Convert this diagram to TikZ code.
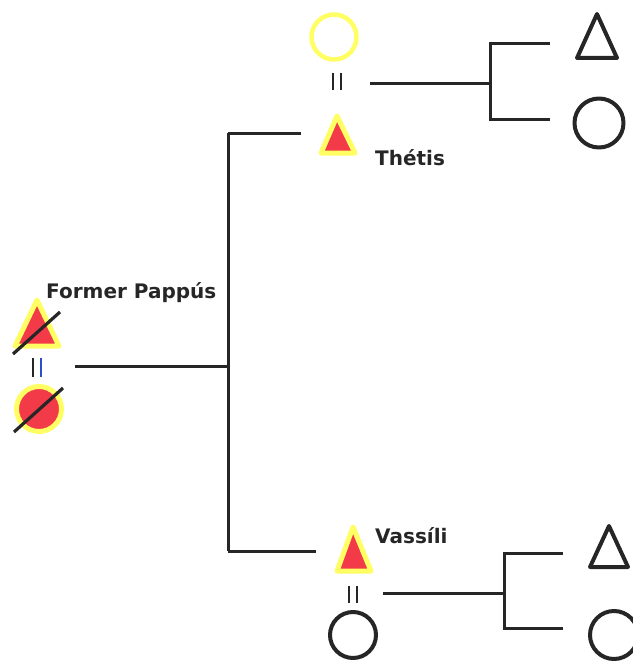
\documentclass[tikz,border=0pt]{standalone}
\usepackage{fontspec}
\setmainfont{DejaVu Sans}
\begin{document}
\begin{tikzpicture}[x=1pt,y=-1pt,
  line/.style={draw=ink,line width=3pt},
  halo/.style={draw=halo,line width=5pt,line join=round,fill=fem},
  plain/.style={draw=ink,line width=4pt,line join=round},
  eqbar/.style={line width=2.4pt},
  strike/.style={draw=ink,line width=3.2pt},
  lbl/.style={font=\bfseries\fontsize{20}{22}\selectfont,text=ink,inner sep=0pt}]
\definecolor{ink}{RGB}{38,38,38}
\definecolor{fem}{RGB}{242,58,72}
\definecolor{halo}{RGB}{255,255,100}
\definecolor{eqblue}{RGB}{40,80,200}
\useasboundingbox (0,0) rectangle (632,661);

% --- Former Pappus couple (struck out) ---
\filldraw[halo] (37,300) -- (59,346) -- (15,346) -- cycle;
\draw[strike] (13,354) -- (60,312);
\draw[eqbar,ink] (33,358) -- (33,377);
\draw[eqbar,eqblue] (41,358) -- (41,377);
\filldraw[halo] (39,409) circle (22.5);
\draw[strike] (14,432) -- (63,388);
\node[lbl,anchor=base west] (pappus) at (46,298) {Former Pappús};

% --- descent line ---
\coordinate (couple0) at (75,366);
\coordinate (trunk) at (228,366);
\coordinate (trunkTop) at (228,133);
\coordinate (trunkBot) at (228,551);
\coordinate (thetisIn) at (301,133);
\coordinate (vassiliIn) at (316,551);
\draw[line] (couple0) -- (trunk);
\draw[line] (trunkTop) -- (trunkBot);
\draw[line] (trunkTop) -- (thetisIn);
\draw[line] (trunkBot) -- (vassiliIn);

% --- Thetis couple ---
\draw[draw=halo,line width=4.5pt] (334,37) circle (22.5);
\draw[eqbar,ink] (333,73) -- (333,90);
\draw[eqbar,ink] (341,73) -- (341,90);
\filldraw[halo] (337,116) -- (355,153) -- (321,153) -- cycle;
\node[lbl,anchor=base west] (thetis) at (375,165) {Thétis};

\coordinate (c1) at (370,83);
\coordinate (b1) at (490,83);
\coordinate (b1t) at (490,44);
\coordinate (b1b) at (490,119);
\coordinate (b1te) at (550,44);
\coordinate (b1be) at (550,119);
\draw[line] (c1) -- (b1);
\draw[line,line join=miter] (b1te) -- (b1t) -- (b1b) -- (b1be);
\draw[plain] (597,14) -- (617,58) -- (577,58) -- cycle;
\draw[plain] (599,123) circle (24.5);

% --- Vassili couple ---
\filldraw[halo] (353,527) -- (371,571) -- (337,571) -- cycle;
\node[lbl,anchor=base west] (vassili) at (375,543) {Vassíli};
\draw[eqbar,ink] (349,586) -- (349,603);
\draw[eqbar,ink] (357,586) -- (357,603);
\draw[plain] (353,635) circle (23);

\coordinate (c2) at (383,593);
\coordinate (b2) at (504,593);
\coordinate (b2t) at (504,553);
\coordinate (b2b) at (504,628);
\coordinate (b2te) at (563,553);
\coordinate (b2be) at (563,628);
\draw[line] (c2) -- (b2);
\draw[line,line join=miter] (b2te) -- (b2t) -- (b2b) -- (b2be);
\draw[plain] (609,526) -- (628,567) -- (590,567) -- cycle;
\draw[plain] (614,635) circle (24);
\end{tikzpicture}
\end{document}
